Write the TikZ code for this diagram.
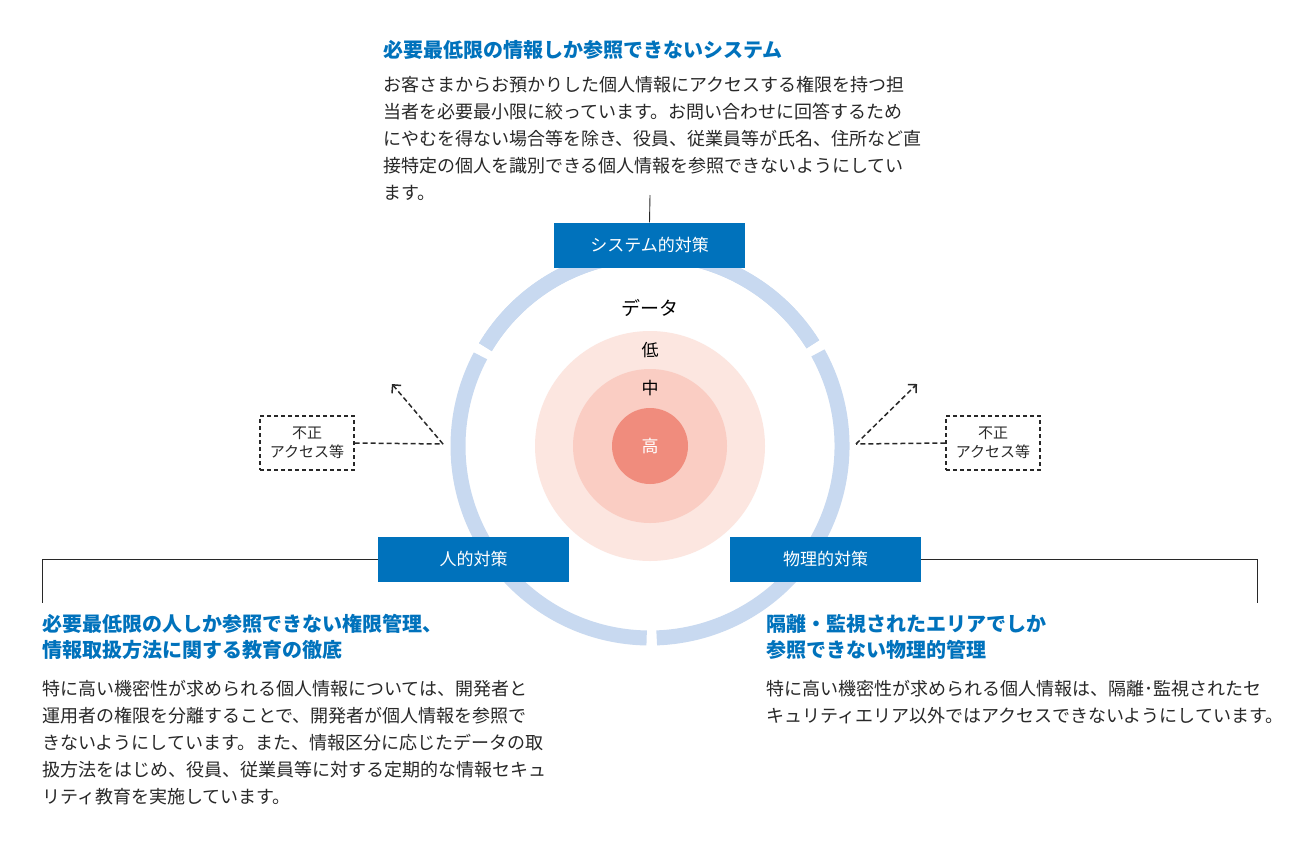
\documentclass[tikz,border=0pt]{standalone}
\usepackage{fontspec}
\setmainfont{Noto Sans CJK JP}
\definecolor{bl}{RGB}{0,114,188}
\definecolor{ring}{RGB}{200,217,240}
\definecolor{p1}{RGB}{252,230,224}
\definecolor{p2}{RGB}{250,205,195}
\definecolor{p3}{RGB}{240,140,125}
\definecolor{tx}{RGB}{40,40,40}
\usetikzlibrary{arrows.meta}
\tikzset{
 body/.style={anchor=base west,inner sep=0,font=\fontsize{18}{20}\selectfont,text=tx},
 ttl/.style={anchor=base west,inner sep=0,font=\fontsize{20}{22}\selectfont\bfseries,text=bl},
 bbox/.style={fill=bl,text=white,minimum width=191,minimum height=45,inner sep=0,font=\fontsize{17}{19}\selectfont},
 dbox/.style={draw=tx,dash pattern=on 4pt off 3pt,line width=1.2,minimum width=94,minimum height=54,inner sep=0,align=center,font=\fontsize{15}{19}\selectfont,text=tx},
 dl/.style={draw=tx,dash pattern=on 5pt off 3pt,line width=1.5},
 conn/.style={draw=tx,line width=0.9},
}
\begin{document}
\begin{tikzpicture}[x=1pt,y=-1pt]
\useasboundingbox[fill=white] (0,0) rectangle (1300,841);
\fill[p1] (650,446) circle (115);
\fill[p2] (650,446) circle (77);
\fill[p3] (650,446) circle (38);
\foreach \a/\b in {-149/-32, -29/88, 91/208, 211/328} {
  \draw[ring,line width=15] (650,446) ++(\a:192) arc[start angle=\a,end angle=\b,radius=192];
}
\node[inner sep=0,font=\fontsize{19}{20}\selectfont] (d) at (650,308) {データ};
\node[inner sep=0,font=\fontsize{17}{20}\selectfont] (lo) at (650,350) {低};
\node[inner sep=0,font=\fontsize{17}{20}\selectfont] (mi) at (650,388) {中};
\node[inner sep=0,font=\fontsize{17}{20}\selectfont,text=white] (hi) at (650,446) {高};
\node[bbox] (sys) at (649.5,245) {システム的対策};
\node[bbox] (hum) at (473.5,559) {人的対策};
\node[bbox] (phy) at (825.5,559) {物理的対策};
\coordinate (st) at (650,195);
\draw[conn] (sys.north) -- (st);
\coordinate (l1) at (42,559); \coordinate (l2) at (42,603);
\draw[conn] (hum.west) -- (l1) -- (l2);
\coordinate (r1) at (1257,559); \coordinate (r2) at (1257,603);
\draw[conn] (phy.east) -- (r1) -- (r2);
\node[dbox] (dL) at (307,443) {不正\\アクセス等};
\node[dbox] (dR) at (993,443) {不正\\アクセス等};
\coordinate (pL) at (443,444); \coordinate (aL) at (392,384);
\coordinate (pR) at (856,444); \coordinate (aR) at (917,384);
\draw[dl] (dL.east) -- (pL);
\draw[dl,-{Straight Barb[length=6,width=12]}] (pL) -- (aL);
\draw[dl] (dR.west) -- (pR);
\draw[dl,-{Straight Barb[length=6,width=12]}] (pR) -- (aR);
\node[ttl] (t1) at (383,57) {必要最低限の情報しか参照できないシステム};
\node[body] (b1) at (383,91) {お客さまからお預かりした個人情報にアクセスする権限を持つ担};
\node[body] (b2) at (383,118) {当者を必要最小限に絞っています。お問い合わせに回答するため};
\node[body] (b3) at (383,145) {にやむを得ない場合等を除き、役員、従業員等が氏名、住所など直};
\node[body] (b4) at (383,172) {接特定の個人を識別できる個人情報を参照できないようにしてい};
\node[body] (b5) at (383,199) {ます。};
\node[ttl] (t2) at (42,631) {必要最低限の人しか参照できない権限管理、};
\node[ttl] (t3) at (42,657) {情報取扱方法に関する教育の徹底};
\node[body] (c1) at (42,695) {特に高い機密性が求められる個人情報については、開発者と};
\node[body] (c2) at (42,722) {運用者の権限を分離することで、開発者が個人情報を参照で};
\node[body] (c3) at (42,749) {きないようにしています。また、情報区分に応じたデータの取};
\node[body] (c4) at (42,776) {扱方法をはじめ、役員、従業員等に対する定期的な情報セキュ};
\node[body] (c5) at (42,803) {リティ教育を実施しています。};
\node[ttl] (t4) at (766,631) {隔離・監視されたエリアでしか};
\node[ttl] (t5) at (766,657) {参照できない物理的管理};
\node[body] (e1) at (766,695) {特に高い機密性が求められる個人情報は、隔離･監視されたセ};
\node[body] (e2) at (766,722) {キュリティエリア以外ではアクセスできないようにしています。};
\end{tikzpicture}
\end{document}
